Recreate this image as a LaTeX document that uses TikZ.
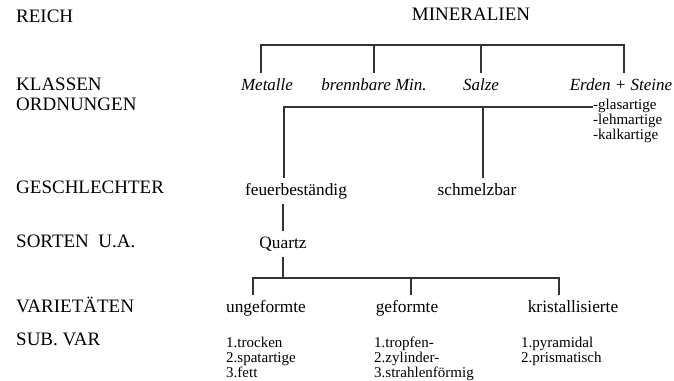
\documentclass[tikz,border=0pt]{standalone}
\usepackage{fontspec}
\setmainfont{LiberationSerif}[Extension=.ttf, UprightFont=*-Regular,
  ItalicFont=*-Italic, BoldFont=*-Bold, BoldItalicFont=*-BoldItalic]
\usetikzlibrary{positioning}

\begin{document}
\begin{tikzpicture}[
          x=1pt, y=-1pt,
          lbl/.style={font=\fontsize{17.3}{19}\selectfont, inner xsep=0pt, inner ysep=5pt,
                      text height=12pt, text depth=4pt},
          rowlbl/.style={lbl, font=\fontsize{19}{21}\selectfont, anchor=west},
          cls/.style={lbl, font=\fontsize{17}{19}\selectfont\itshape},
          sub/.style={font=\fontsize{15}{15}\selectfont, align=left, inner sep=0pt,
                      anchor=north west},
          ln/.style={line width=1.2pt, draw=black!80}
        ]
        \useasboundingbox (0,0) rectangle (674,380);
        % Zeilenbeschriftung links
        \node[rowlbl] (reich) at (16,18) {REICH};
        \node[rowlbl] (kl) at (16,86) {KLASSEN};
        \node[rowlbl] (ord) at (16,106) {ORDNUNGEN};
        \node[rowlbl] (ge) at (16,189) {GESCHLECHTER};
        \node[rowlbl] (so) at (16,243) {SORTEN\ \ U.A.};
        \node[rowlbl] (va) at (16,308) {VARIETÄTEN};
        \node[rowlbl] (sv) at (16,341) {SUB. VAR};
        % Baum
        \node[lbl, font=\fontsize{19}{21}\selectfont] (min) at (471,16) {MINERALIEN};
        \node[cls] (met) at (267,86) {Metalle};
        \node[cls] (bre) at (374,86) {brennbare Min.};
        \node[cls] (sal) at (481,86) {Salze};
        \node[cls] (erd) at (621,86) {Erden + Steine};
        \node[sub] (glas) at (593,99) {-glasartige\\-lehmartige\\-kalkartige};
        \node[lbl] (feu) at (296,191) {feuerbeständig};
        \node[lbl] (sch) at (477,191) {schmelzbar};
        \node[lbl] (qu) at (283,244) {Quartz};
        \node[lbl] (ung) at (266,308) {ungeformte};
        \node[lbl] (gef) at (407,308) {geformte};
        \node[lbl] (kri) at (573,308) {kristallisierte};
        \node[sub] (s1) at (226,337) {1.trocken\\2.spatartige\\3.fett};
        \node[sub] (s2) at (374,337) {1.tropfen-\\2.zylinder-\\3.strahlenförmig};
        \node[sub] (s3) at (521,337) {1.pyramidal\\2.prismatisch};
        % Verbindungen
        \coordinate (k1) at (261,45); \coordinate (k2) at (374,45);
        \coordinate (k3) at (481,45); \coordinate (k4) at (624,45);
        \draw[ln] (k1 |- met.north) -- (k1) -- (k4) -- (k4 |- erd.north);
        \draw[ln] (k2) -- (k2 |- bre.north);
        \draw[ln] (k3) -- (k3 |- sal.north);
        \coordinate (o1) at (284,107); \coordinate (o2) at (483,107);
        \draw[ln] (o1 -| glas.west) -- (o1) -- (o1 |- feu.north);
        \draw[ln] (o2) -- (o2 |- sch.north);
        \draw[ln] (qu.north) -- (qu.north |- feu.south);
        \coordinate (v1) at (253,278); \coordinate (v2) at (411,278);
        \coordinate (v3) at (559,278);
        \draw[ln] (qu.south) -- (qu.south |- v1);
        \draw[ln] (v1 |- ung.north) -- (v1) -- (v3) -- (v3 |- kri.north);
        \draw[ln] (v2) -- (v2 |- gef.north);
      \end{tikzpicture}
\end{document}
